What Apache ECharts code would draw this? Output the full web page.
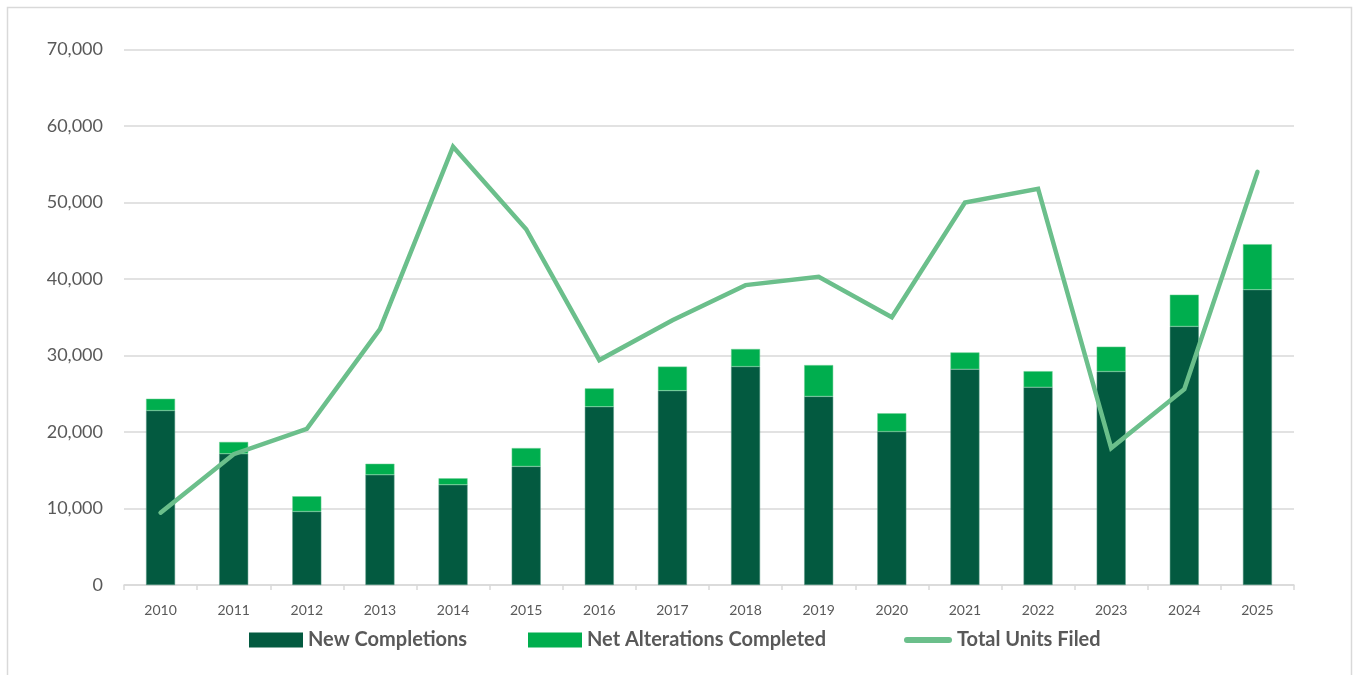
<!DOCTYPE html>
<html>
<head>
<meta charset="utf-8">
<script src="https://cdn.jsdelivr.net/npm/echarts@6/dist/echarts.min.js"></script>
<style>
  html, body { margin: 0; padding: 0; background: #ffffff; }
  #chart { width: 1353px; height: 675px; }
</style>
</head>
<body>
<div id="chart"></div>
<script>
// Housing units by year
const years = ['2010','2011','2012','2013','2014','2015','2016','2017','2018','2019','2020','2021','2022','2023','2024','2025'];
const newCompletions = [22800, 17150, 9600, 14400, 13100, 15500, 23300, 25400, 28550, 24650, 20050, 28200, 25850, 27900, 33800, 38600];
const netAlterations = [1550, 1550, 2000, 1450, 850, 2400, 2400, 3150, 2300, 4100, 2400, 2200, 2100, 3250, 4150, 5950];
const totalUnitsFiled = [9450, 17100, 20400, 33450, 57300, 46500, 29400, 34600, 39200, 40300, 35000, 50000, 51800, 17900, 25600, 54000];
const yTicks = { min: 0, max: 70000, interval: 10000 };

const textColor = '#595959';
const fontFamily = 'Lato, "Open Sans", sans-serif';

// one legend block per series so each entry sits at its own spot
function legendEntry(name, left, icon, w, h) {
  return {
    bottom: 20,
    left: left,
    itemWidth: w,
    itemHeight: h,
    itemStyle: { borderWidth: 0 },
    textStyle: { color: textColor, fontSize: 20, fontWeight: 'bold', fontFamily: fontFamily },
    data: [{ name: name, icon: icon }]
  };
}

const chart = echarts.init(document.getElementById('chart'), null, { renderer: 'canvas' });

chart.setOption({
  backgroundColor: '#ffffff',
  animation: false,
  graphic: [{
    type: 'rect',
    shape: { x: 7.5, y: 7.5, width: 1344, height: 700 },
    style: { fill: 'none', stroke: '#d9d9d9', lineWidth: 1.5 },
    silent: true,
    z: -1
  }],
  grid: { left: 124, right: 59, top: 49.5, bottom: 90, containLabel: false },
  legend: [
    legendEntry('New Completions', 244, 'rect', 54, 15),
    legendEntry('Net Alterations Completed', 523, 'rect', 54, 15),
    legendEntry('Total Units Filed', 899, 'path://M3,0 L45,0 A3,3 0 0 1 45,6 L3,6 A3,3 0 0 1 3,0 Z', 48, 6)
  ],
  xAxis: {
    type: 'category',
    data: years,
    boundaryGap: true,
    axisLine: { lineStyle: { color: '#d9d9d9', width: 1.5 } },
    axisTick: { show: true, length: 5, lineStyle: { color: '#d9d9d9', width: 1.5 } },
    axisLabel: { color: textColor, fontSize: 14, fontFamily: fontFamily, margin: 18 }
  },
  yAxis: {
    type: 'value',
    min: yTicks.min,
    max: yTicks.max,
    interval: yTicks.interval,
    axisLine: { show: false },
    axisTick: { show: false },
    splitLine: { lineStyle: { color: '#d9d9d9', width: 1.5 } },
    axisLabel: {
      color: textColor,
      fontSize: 18,
      fontFamily: fontFamily,
      margin: 21,
      formatter: v => v.toLocaleString('en-US')
    }
  },
  series: [
    {
      name: 'New Completions',
      type: 'bar',
      stack: 'units',
      barWidth: 29,
      data: newCompletions,
      itemStyle: { color: '#035a40', borderColor: '#5a9b84', borderWidth: 0.5 }
    },
    {
      name: 'Net Alterations Completed',
      type: 'bar',
      stack: 'units',
      barWidth: 29,
      data: netAlterations,
      itemStyle: { color: '#00ae4e', borderColor: '#6fd094', borderWidth: 0.5 }
    },
    {
      name: 'Total Units Filed',
      type: 'line',
      data: totalUnitsFiled,
      symbol: 'none',
      z: 5,
      lineStyle: { color: '#6bbf8b', width: 4.5, cap: 'round', join: 'miter' },
      itemStyle: { color: '#6bbf8b' }
    }
  ]
});
</script>
</body>
</html>
